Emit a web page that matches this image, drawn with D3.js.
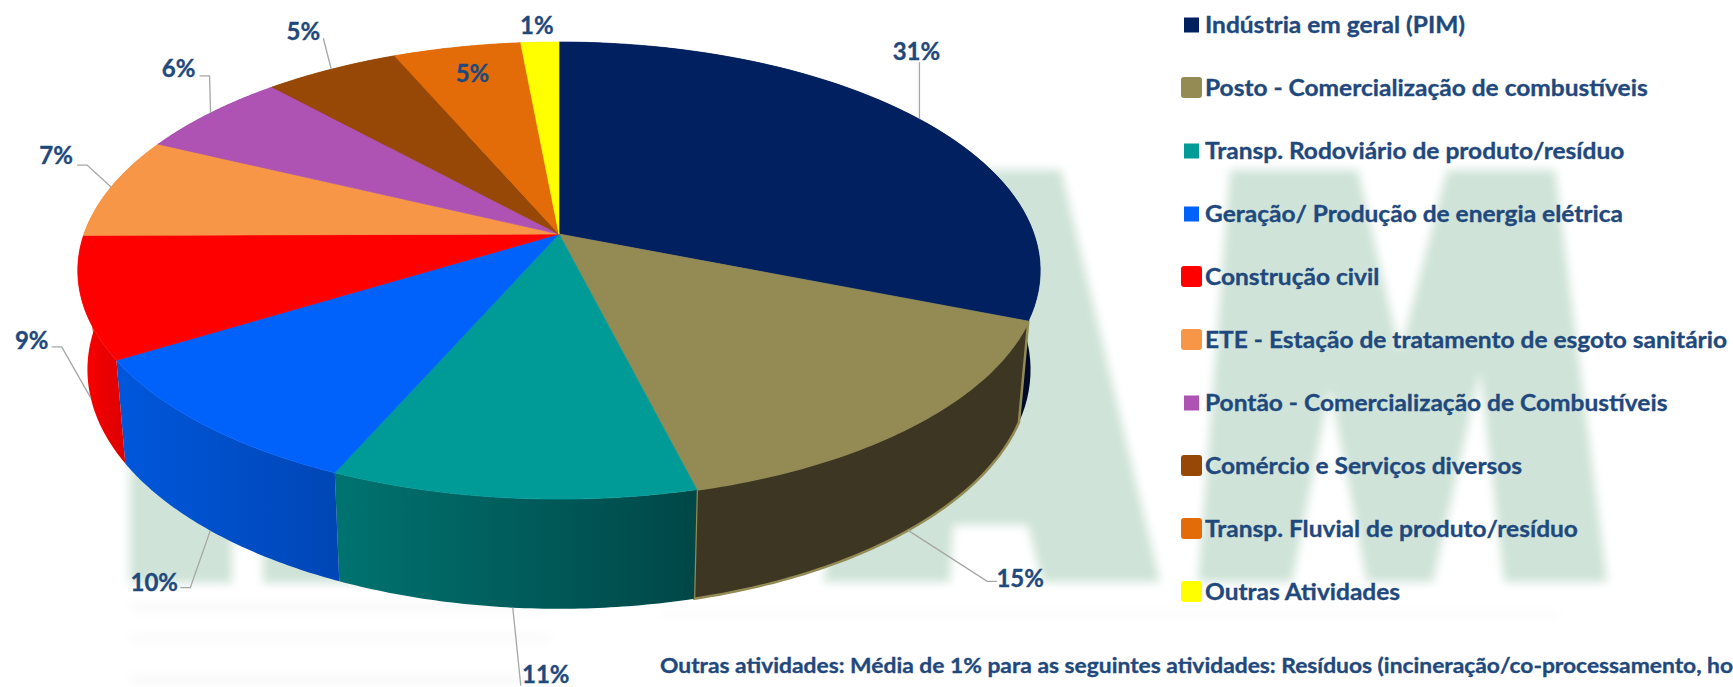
<!DOCTYPE html>
<html lang="pt">
<head>
<meta charset="utf-8">
<script src="https://cdn.jsdelivr.net/npm/d3@7/dist/d3.min.js"></script>
<style>
html,body{margin:0;padding:0;background:#fff;overflow:hidden}
svg{display:block}
text{font-family:Lato,"Open Sans",sans-serif;font-weight:700;fill:#1f497d;stroke:#1f497d;stroke-width:.35px}
</style>
</head>
<body>
<svg id="chart" width="1733" height="687"></svg>
<script>
const categories = ["Indústria em geral (PIM)","Posto - Comercialização de combustíveis","Transp. Rodoviário de produto/resíduo","Geração/ Produção de energia elétrica","Construção civil","ETE - Estação de tratamento de esgoto sanitário","Pontão - Comercialização de Combustíveis","Comércio e Serviços diversos","Transp. Fluvial de produto/resíduo","Outras Atividades"];
const shares = [31.0,15.06,10.54,9.7,8.6,7.2,6.1,5.3,5.01,1.49];
const colors = ["#002060","#948a54","#009a97","#0062fb","#ff0000","#f79646","#ae52b4","#974706","#e36c09","#ffff00"];
const wallLeft = ["#001040","#3d3622","#007370","#0057dc","#ff0000","#c87a38","#8d4291","#7a3905","#b85707","#cccc00"];
const wallRight = ["#000a28","#3d3622","#004747","#0046b6","#dc0000","#c87a38","#8d4291","#7a3905","#b85707","#cccc00"];
const footnote = "Outras atividades: Média de 1% para as seguintes atividades: Resíduos (incineração/co-processamento, ho";

const svg = d3.select("#chart");
const defs = svg.append("defs");
defs.append("filter").attr("id","soft").attr("x","-10%").attr("y","-10%").attr("width","120%").attr("height","120%")
  .append("feGaussianBlur").attr("stdDeviation",5);

// Pale blurred logo in the background
const marks = svg.append("g").attr("filter","url(#soft)");
const logo = [
  "M130,170H232V583H130Z",
  "M263,170H500V583H263Z",
  "M920,170H1061L1160,582H1042L1028,525H953L950,582H823Z",
  "M1230,170H1358L1400,353L1447,170H1555L1607,582H1504L1480,370L1433,582H1367L1330,387L1292,582H1198Z"
];
marks.selectAll("path").data(logo).join("path").attr("d",d=>d).attr("fill","#cfe3d8");
const smudges = [[130,600,420,14],[130,632,420,12],[660,610,900,8],[130,672,430,15]];
marks.selectAll("rect").data(smudges).join("rect")
  .attr("x",d=>d[0]).attr("y",d=>d[1]).attr("width",d=>d[2]).attr("height",d=>d[3]).attr("fill","#fafbfa");

// Perspective projection of a flat disc
const P = {cx:559, cy:234, A:475, B:222.7, k:0.16, sx:0.98, cy2:331.4, B2:233};
function topPt(t){const u=Math.sin(t),v=-Math.cos(t),w=1-P.k*v;return [P.cx+P.A*u/w,P.cy+P.B*v/w];}
function bottomPt(t){const u=Math.sin(t),v=-Math.cos(t),w=1-P.k*v;return [P.cx+P.sx*P.A*u/w,P.cy2+P.B2*v/w];}
function samples(a,b){return d3.range(0,61).map(i=>a+(b-a)*i/60);}

const arcs = d3.pie().sort(null).value(d=>d)(shares);
const line = d3.line();

// Side walls
arcs.forEach((d,i)=>{
  const ts = samples(d.startAngle,d.endAngle);
  const pts = ts.map(topPt).concat(ts.slice().reverse().map(bottomPt));
  const xs = d3.extent(pts,p=>p[0]);
  const id="wall"+i;
  const g=defs.append("linearGradient").attr("id",id).attr("gradientUnits","userSpaceOnUse")
    .attr("x1",xs[0]).attr("x2",xs[1]).attr("y1",0).attr("y2",0);
  g.append("stop").attr("offset",0).attr("stop-color",wallLeft[i]);
  g.append("stop").attr("offset",1).attr("stop-color",wallRight[i]);
  d.wallPts=pts; d.wallId=id;
});
svg.append("g").selectAll("path").data(arcs).join("path")
  .attr("d",d=>line(d.wallPts)+"Z")
  .attr("fill",d=>`url(#${d.wallId})`)
  .attr("stroke",(d,i)=>i===1?colors[1]:"none")
  .attr("stroke-width",(d,i)=>i===1?2.5:0)
  .attr("stroke-linejoin","round");

// Top faces
svg.append("g").selectAll("path").data(arcs).join("path")
  .attr("d",d=>line([[P.cx,P.cy]].concat(samples(d.startAngle,d.endAngle).map(topPt)))+"Z")
  .attr("fill",(d,i)=>colors[i])
  .attr("stroke",(d,i)=>colors[i])
  .attr("stroke-width",0.7);

// Data labels: offsets from the rim anchor
const labelLayout = [
  {rim:topPt,    knee:[0,-57],  tail:[0,-57],   text:[-3,-69],  lead:true},
  {rim:bottomPt, knee:[79,51],  tail:[89,51],   text:[112,47],  lead:true},
  {rim:bottomPt, knee:[8,78],   tail:[8,78],    text:[33,66],   lead:true},
  {rim:bottomPt, knee:[-20,57], tail:[-30,57],  text:[-56,51],  lead:true},
  {rim:bottomPt, knee:[-29,-51],tail:[-39,-51], text:[-59,-58], lead:true},
  {rim:topPt,    knee:[-24,-22],tail:[-34,-22], text:[-55,-33], lead:true},
  {rim:topPt,    knee:[-1,-37], tail:[-11,-37], text:[-32,-45], lead:true},
  {rim:topPt,    knee:[-8,-31], tail:[-8,-31],  text:[-28,-39], lead:true},
  {rim:topPt,    knee:[0,0],    tail:[0,0],     text:[-13,-27], lead:false, inner:0.72},
  {rim:topPt,    knee:[0,0],    tail:[0,0],     text:[-3,-18],  lead:false}
];
const fmt = v => Math.round(v)+"%";
const lg = svg.append("g");
arcs.forEach((d,i)=>{
  const L=labelLayout[i], mid=(d.startAngle+d.endAngle)/2;
  let a=L.rim(mid);
  if(L.inner){const r=topPt(mid);a=[P.cx+(r[0]-P.cx)*L.inner,P.cy+(r[1]-P.cy)*L.inner];}
  if(L.lead){
    lg.append("path")
      .attr("d",line([a,[a[0]+L.knee[0],a[1]+L.knee[1]],[a[0]+L.tail[0],a[1]+L.tail[1]]]))
      .attr("fill","none").attr("stroke","#a6a6a6").attr("stroke-width",1.3);
  }
  lg.append("text").attr("x",a[0]+L.text[0]).attr("y",a[1]+L.text[1])
    .attr("text-anchor","middle").attr("dominant-baseline","central")
    .attr("font-size",24).text(fmt(d.value));
});

// Legend
const legendY = d3.scaleLinear().domain([0,9]).range([25,592]);
const rounded = new Set([1,4,5,7,8,9]);
const leg = svg.append("g").selectAll("g").data(categories).join("g")
  .attr("transform",(d,i)=>`translate(0,${legendY(i)})`);
leg.append("rect")
  .attr("x",(d,i)=>rounded.has(i)?1181:1184).attr("y",(d,i)=>rounded.has(i)?-11:-7.5)
  .attr("width",(d,i)=>rounded.has(i)?21:15).attr("height",(d,i)=>rounded.has(i)?21:15)
  .attr("rx",(d,i)=>rounded.has(i)?3:0)
  .attr("fill",(d,i)=>colors[i]);
const legText = leg.append("text").attr("x",1205).attr("y",8).attr("font-size",23.5).text(d=>d);
const refW = legText.filter((d,i)=>i===5).node().getComputedTextLength();
const squeeze = 522/refW;
legText.each(function(){
  const w=this.getComputedTextLength();
  d3.select(this).attr("textLength",w*squeeze).attr("lengthAdjust","spacingAndGlyphs");
});

// Footnote
svg.append("text").attr("x",660).attr("y",673).attr("font-size",21.5)
  .attr("textLength",1073).attr("lengthAdjust","spacingAndGlyphs").text(footnote);
</script>
</body>
</html>
